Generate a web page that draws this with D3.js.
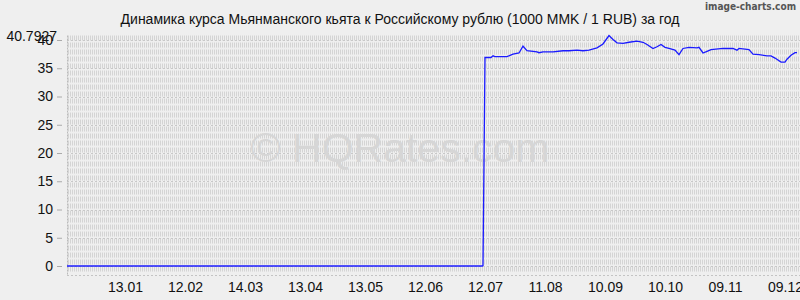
<html>
<head>
<meta charset="utf-8">
<title>MMK/RUB</title>
<style>
    body{ margin:0; background:#efefef; }
    svg{ display:block; background:#efefef; font-family:"Liberation Sans", Arial, sans-serif; }
    .title{ font-size:14px; fill:#111; }
    .brand{ font-family:"DejaVu Sans Condensed", "DejaVu Sans", sans-serif; font-size:10px; font-weight:bold; fill:#555; }
    .axis text{ font-size:14px; fill:#111; }
    .watermark{ font-size:41px; fill:#d6d6d6; }
    .rate{ fill:none; stroke:#1a1aff; stroke-width:1.3; }
</style>
</head>
<body>
<script src="https://cdn.jsdelivr.net/npm/d3@7"></script>
<script>
var width = 800, height = 300;
var x0 = 67, yTop = 40, yBot = 266;

// dates (2022-12-15 .. 2023-12-15) and rates, 1000 MMK in RUB
var dates = ["2022-12-15","2023-07-11","2023-07-12","2023-07-15","2023-07-16","2023-07-17","2023-07-23",
    "2023-07-26","2023-07-29","2023-07-31","2023-08-02","2023-08-05","2023-08-07","2023-08-08","2023-08-10",
    "2023-08-15","2023-08-20","2023-08-23","2023-08-27","2023-08-30","2023-09-02","2023-09-06","2023-09-09",
    "2023-09-12","2023-09-14","2023-09-16","2023-09-19","2023-09-22","2023-09-26","2023-09-29","2023-10-01",
    "2023-10-04","2023-10-06","2023-10-08","2023-10-10","2023-10-12","2023-10-15","2023-10-17","2023-10-19",
    "2023-10-22","2023-10-26","2023-10-27","2023-10-29","2023-10-31","2023-11-02","2023-11-08","2023-11-13",
    "2023-11-15","2023-11-16","2023-11-21","2023-11-23","2023-11-26","2023-11-30","2023-12-02","2023-12-04",
    "2023-12-07","2023-12-09","2023-12-10","2023-12-12","2023-12-14","2023-12-15"];
var rates = [0,0,36.9,36.9,37.2,37.05,37.05,
    37.5,37.7,38.9,38.1,38.0,37.9,37.75,37.9,
    37.9,38.1,38.1,38.2,38.1,38.2,38.6,39.3,
    40.79,40.1,39.5,39.4,39.6,39.8,39.6,39.2,
    38.5,38.8,39.2,38.7,38.5,38.2,37.4,38.5,
    38.7,38.6,38.7,37.7,38.0,38.3,38.5,38.5,
    38.2,38.5,38.3,37.5,37.4,37.2,37.2,36.8,
    36.1,36.1,36.6,37.3,37.75,37.75];

var tickDates = ["2023-01-13","2023-02-12","2023-03-14","2023-04-13","2023-05-13","2023-06-12",
    "2023-07-12","2023-08-11","2023-09-10","2023-10-10","2023-11-09","2023-12-09"];
var yTicks = [0,5,10,15,20,25,30,35,40];
var maxLabel = "40.7927";

var title = "Динамика курса Мьянманского кьята к Российскому рублю (1000 MMK / 1 RUB) за год";

var parse = d3.timeParse("%Y-%m-%d");
var data = dates.map(function(d, i){ return {date: parse(d), value: rates[i]}; });

var x = d3.scaleTime()
    .domain([parse("2022-12-15"), parse("2023-12-15")])
    .range([x0, x0 + 365 * 2]);
var y = d3.scaleLinear().domain([0, 40]).range([yBot, yTop]);

var svg = d3.select("body").append("svg")
    .attr("width", width)
    .attr("height", height);

// grid: dense dashed verticals
var grid = svg.append("g");
for(var gx = x0 + 1; gx < width; gx += 2){
    grid.append("line")
        .attr("x1", gx + 0.5).attr("x2", gx + 0.5)
        .attr("y1", y(40.79)).attr("y2", yBot + 6)
        .attr("stroke", "#d4d4d4")
        .attr("stroke-width", 1)
        .attr("stroke-dasharray", "5,2");
}
// horizontal dotted lines at major ticks
yTicks.forEach(function(t){
    grid.append("line")
        .attr("x1", x0).attr("x2", width)
        .attr("y1", Math.round(y(t)) + 0.5).attr("y2", Math.round(y(t)) + 0.5)
        .attr("stroke", "#c8c8c8")
        .attr("stroke-dasharray", "2,2");
});

// watermark
svg.append("text")
    .attr("class", "watermark")
    .attr("x", 400).attr("y", 162)
    .attr("text-anchor", "middle")
    .text("© HQRates.com");

// axes lines
svg.append("line")
    .attr("x1", x0 + 0.5).attr("x2", x0 + 0.5)
    .attr("y1", y(40.79)).attr("y2", 276)
    .attr("stroke", "#bbb").attr("stroke-dasharray", "2,1");
svg.append("line")
    .attr("x1", x0).attr("x2", width)
    .attr("y1", 275.5).attr("y2", 275.5)
    .attr("stroke", "#c4c4c4").attr("stroke-dasharray", "2,2");

// y axis
var yAxis = d3.axisLeft(y).tickValues(yTicks).tickSize(5).tickPadding(4);
var gy = svg.append("g").attr("class", "axis")
    .attr("transform", "translate(" + (x0 - 5) + ",0)")
    .call(yAxis);
gy.select(".domain").remove();
gy.selectAll(".tick line").attr("stroke", "#aaa");
gy.append("text")
    .attr("x", -5).attr("y", y(40.79) + 5)
    .attr("text-anchor", "end")
    .text(maxLabel);

// x axis
var xAxis = d3.axisBottom(x)
    .tickValues(tickDates.map(parse))
    .tickFormat(d3.timeFormat("%d.%m"))
    .tickSize(0).tickPadding(0);
var gx2 = svg.append("g").attr("class", "axis")
    .attr("transform", "translate(0,278)")
    .call(xAxis);
gx2.select(".domain").remove();
gx2.selectAll(".tick text").attr("dy", "1em");

// line
var line = d3.line()
    .x(function(d){ return x(d.date); })
    .y(function(d){ return y(d.value); });
svg.append("path")
    .datum(data.slice(0, 2))
    .attr("class", "rate")
    .attr("stroke-width", 2)
    .attr("d", line);
svg.append("path")
    .datum(data.slice(1))
    .attr("class", "rate")
    .attr("d", line);

// title
svg.append("text")
    .attr("class", "title")
    .attr("x", 400).attr("y", 24)
    .attr("text-anchor", "middle")
    .text(title);
svg.append("text")
    .attr("class", "brand")
    .attr("x", 796).attr("y", 10)
    .attr("text-anchor", "end")
    .text("image-charts.com");
</script>
</body>
</html>
